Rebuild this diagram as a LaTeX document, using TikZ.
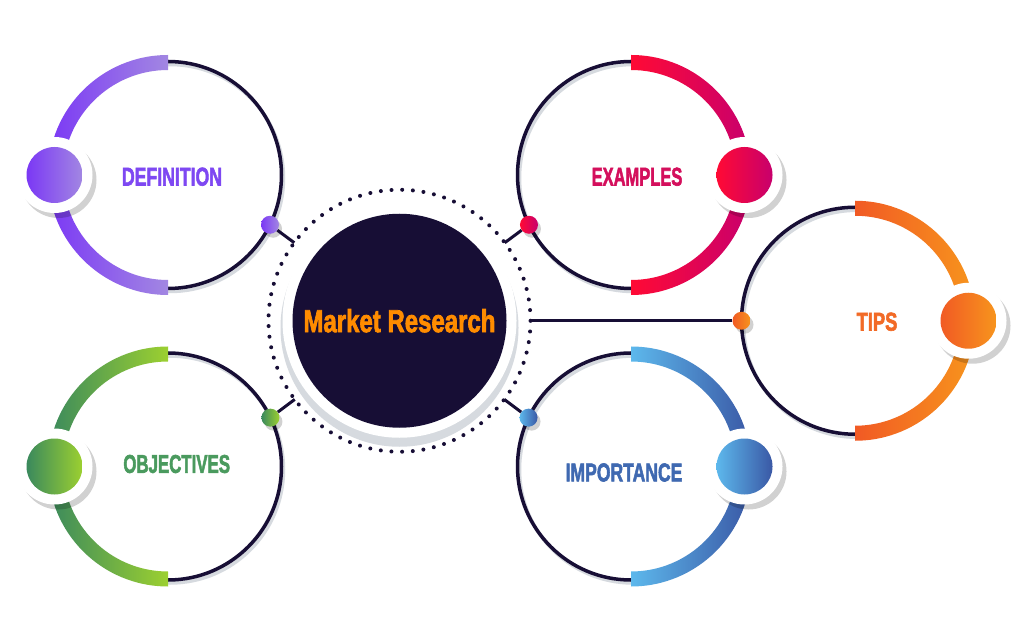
\documentclass[tikz,border=0pt]{standalone}
\usepackage{fontspec}
\usepackage{graphicx}
\newfontfamily\hfont{Liberation Sans}[BoldFeatures={FakeBold=2.5}]
\usetikzlibrary{calc}
\definecolor{dark}{HTML}{170E35}
\definecolor{ringgrey}{HTML}{D6DADF}
\definecolor{purA}{HTML}{7B38F5}
\definecolor{purB}{HTML}{A287E2}
\definecolor{purT}{HTML}{7E48F2}
\definecolor{redA}{HTML}{FF0A35}
\definecolor{redB}{HTML}{C8006D}
\definecolor{redT}{HTML}{D40F5C}
\definecolor{oraA}{HTML}{F15A24}
\definecolor{oraB}{HTML}{F7951D}
\definecolor{oraT}{HTML}{F26A26}
\definecolor{bluA}{HTML}{5DB8EC}
\definecolor{bluB}{HTML}{3A58A5}
\definecolor{bluT}{HTML}{3F69B1}
\definecolor{grnA}{HTML}{3A895D}
\definecolor{grnB}{HTML}{9CD030}
\definecolor{grnT}{HTML}{4A9A5E}
\definecolor{mrT}{HTML}{FF8C00}
\tikzset{
  thinring/.style={draw=dark, line width=3.5pt},
  ringshade/.style={draw=ringgrey, line width=3.5pt},
  softshadow/.style={fill=black, opacity=0.18},
  bubble/.style={circle, minimum size=56pt, inner sep=0pt},
  smalldot/.style={circle, minimum size=18pt, inner sep=0pt},
  conn/.style={draw=dark, line width=3pt},
  topictext/.style={inner sep=0pt, anchor=center},
}
% #1 centre, #2 band end angle, #3 bubble angle, #4 colour A, #5 colour B, #6 bubble name
\newcommand\topicring[6]{%
  \draw[ringshade] ($(#1)+(2,-3)$) circle[radius=113.5];
  \draw[thinring] (#1) circle[radius=113.5];
  \shade[left color=#4, right color=#5] ($(#1)+(90:120)$) arc[start angle=90, end angle=#2, radius=120]
     -- ($(#1)+(#2:105)$) arc[start angle=#2, end angle=90, radius=105] -- cycle;
  \fill[softshadow] ($(#1)+(#3:113.5)+(4,-5)$) circle[radius=38];
  \fill[white] ($(#1)+(#3:113.5)$) circle[radius=38];
  \node[bubble, left color=#4, right color=#5] (#6) at ($(#1)+(#3:113.5)$) {};
}
% #1 position, #2 colour A, #3 colour B, #4 name
\newcommand\ringdot[4]{%
  \fill[softshadow] ($(#1)+(3,-4)$) circle[radius=9];
  \node[smalldot, left color=#2, right color=#3] (#4) at (#1) {};
}
\newcommand\fittext[3]{\resizebox{#1pt}{#2pt}{\hfont\bfseries #3}}
\begin{document}
\begin{tikzpicture}[x=1pt, y=1pt]
\useasboundingbox (0,0) rectangle (1024,640);
\fill[white] (0,0) rectangle (1024,640);

\coordinate (defc) at (168,465);
\coordinate (exc) at (631,465);
\coordinate (objc) at (168,173.5);
\coordinate (impc) at (631,173.5);
\coordinate (tipc) at (855,319.25);
\coordinate (mrc) at (399.5,319.25);

\topicring{defc}{270}{180}{purA}{purB}{defb}
\topicring{exc}{-90}{0}{redA}{redB}{exb}
\topicring{objc}{270}{180}{grnA}{grnB}{objb}
\topicring{impc}{-90}{0}{bluA}{bluB}{impb}
\topicring{tipc}{-90}{0}{oraA}{oraB}{tipb}

\node[topictext, text=purT] (deft) at (172,463.3) {\fittext{100}{18}{DEFINITION}};
\node[topictext, text=redT] (ext) at (637,463.3) {\fittext{90.7}{18}{EXAMPLES}};
\node[topictext, text=grnT] (objt) at (176.7,176) {\fittext{106.7}{18}{OBJECTIVES}};
\node[topictext, text=bluT] (impt) at (624,167.5) {\fittext{116.7}{18}{IMPORTANCE}};
\node[topictext, text=oraT] (tipt) at (877,318.3) {\fittext{40.7}{18}{TIPS}};

% central
\fill[ringgrey] ($(mrc)+(0,-7)$) circle[radius=119];
\fill[white] (mrc) circle[radius=117];
\node[circle, fill=dark, minimum size=214pt, inner sep=0pt, text=mrT] (mr) at (mrc)
  {\fittext{192}{23}{Market Research}};
\draw[dark, line width=4pt, line cap=round, dash pattern=on 0pt off 10.69pt] (mrc) circle[radius=131];

% small dots
\coordinate (defp) at ($(defc)+(-26:113.5)$);
\coordinate (exp) at ($(exc)+(206:113.5)$);
\coordinate (objp) at ($(objc)+(25.5:113.5)$);
\coordinate (impp) at ($(impc)+(154.5:113.5)$);
\coordinate (tipp) at ($(tipc)+(180:113.5)$);
\ringdot{defp}{purA}{purB}{defd}
\ringdot{exp}{redA}{redB}{exd}
\ringdot{objp}{grnA}{grnB}{objd}
\ringdot{impp}{bluA}{bluB}{impd}
\ringdot{tipp}{oraA}{oraB}{tipd}

\coordinate (defe) at ($(mrc)!131pt!(defp)$);
\coordinate (exe) at ($(mrc)!131pt!(exp)$);
\coordinate (obje) at ($(mrc)!131pt!(objp)$);
\coordinate (impe) at ($(mrc)!131pt!(impp)$);
\coordinate (tipe) at ($(mrc)!131pt!(tipp)$);
\draw[conn] (defd) -- (defe);
\draw[conn] (exd) -- (exe);
\draw[conn] (objd) -- (obje);
\draw[conn] (impd) -- (impe);
\draw[conn] (tipd) -- (tipe);
\end{tikzpicture}
\end{document}
